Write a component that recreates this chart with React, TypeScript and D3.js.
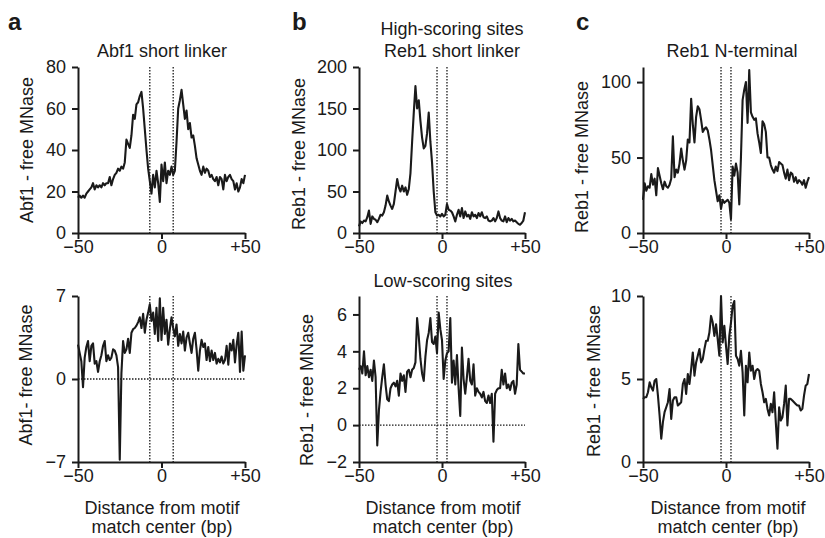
import React, { useEffect, useRef } from "react";
import * as d3 from "d3";

// distance from motif center, -50..+50 bp
const positions = d3.range(-50, 51);

// a, top: Abf1 short linker (high-scoring)
const abf1ShortLinker = [
  17, 18, 17, 18, 17, 19, 20, 21, 22, 24,
  21, 23, 22, 23, 22, 24, 23, 24, 24, 27,
  23, 26, 28, 29, 31, 30, 32, 31, 34, 45,
  43, 41, 47, 57, 55, 62, 63, 66, 68, 60,
  50, 40, 31, 25, 19, 28, 22, 30, 24, 15,
  33, 25, 34, 24, 30, 28, 32, 28, 30, 44,
  60, 64, 69, 62, 55, 59, 50, 53, 46, 47,
  42, 36, 33, 30, 28, 32, 29, 31, 30, 27,
  28, 26, 25, 27, 23, 27, 26, 21, 28, 25,
  27, 28, 26, 25, 21, 24, 20, 22, 26, 24,
  28,
];

// b, top: Reb1 short linker, high-scoring sites
const reb1ShortHigh = [
  8, 14, 12, 15, 14, 19, 27, 11, 20, 17,
  16, 13, 17, 22, 21, 25, 33, 45, 38, 33,
  29, 35, 50, 65, 55, 50, 57, 50, 55, 46,
  53, 72, 110, 145, 177, 150, 160, 135, 115, 102,
  105, 120, 145, 110, 85, 50, 25, 21, 22, 20,
  23, 20, 22, 35, 28, 27, 25, 20, 14, 22,
  28, 20, 30, 18, 26, 20, 22, 17, 25, 20,
  22, 18, 24, 20, 25, 19, 18, 20, 15, 14,
  15, 18, 14, 18, 26, 18, 15, 14, 20, 13,
  18, 15, 17, 14, 15, 13, 11, 10, 12, 15,
  25,
];

// c, top: Reb1 N-terminal
const reb1NTermHigh = [
  22, 33, 28, 31, 30, 39, 32, 36, 25, 43,
  38, 33, 29, 34, 31, 30, 32, 36, 64, 37,
  42, 40, 46, 56, 48, 42, 48, 62, 60, 89,
  72, 60, 77, 84, 82, 75, 67, 69, 70, 68,
  62, 55, 45, 35, 28, 21, 25, 16, 22, 20,
  21, 22, 20, 9, 44, 38, 46, 40, 19, 50,
  88, 95, 100, 73, 108, 80, 77, 75, 76, 66,
  60, 53, 74, 72, 67, 50, 50, 45, 42, 40,
  44, 41, 47, 46, 45, 40, 36, 42, 35, 40,
  39, 34, 37, 33, 35, 34, 32, 35, 30, 34,
  37,
];

// a, bottom: Abf1 low-scoring
const abf1Low = [
  2.9, 2.2, 1.5, -0.7, 1.8, 2.7, 3.2, 1.5, 2.8, 3.0,
  1.3, 1.5, 0.6, 1.5, 2.0, 2.8, 3.2, 1.5, 2.0, 1.6,
  1.8, 2.5, 2.4, 2.0, 1.0, -6.8, 0.5, 3.2, 2.2, 2.5,
  3.4, 2.2, 3.9, 4.2, 4.3, 4.5, 4.8, 5.2, 4.3, 5.5,
  3.9, 5.0, 5.6, 6.3, 4.9, 5.6, 3.8, 6.0, 3.2, 6.8,
  3.3, 6.0, 3.8, 5.0, 2.9, 4.2, 5.2, 4.3, 3.6, 4.6,
  2.8, 3.8, 3.0, 4.0, 2.4, 3.5, 3.9, 3.0, 2.2, 3.4,
  3.9, 2.5, 0.7, 2.4, 3.3, 2.7, 3.0, 1.6, 2.7, 1.5,
  2.4, 1.6, 2.2, 1.3, 1.7, 1.4, 1.9, 1.3, 1.6, 2.8,
  1.2, 3.0, 2.4, 3.3, 1.4, 2.9, 3.9, 0.6, 4.0, 0.7,
  2.0,
];

// b, bottom: Reb1 short linker, low-scoring sites
const reb1ShortLow = [
  3.0, 3.2, 2.8, 4.0, 2.7, 3.2, 2.6, 3.0, 2.4, 3.5,
  2.6, -1.1, 0.8, 1.8, 2.6, 3.3, 2.2, 1.4, 1.3, 2.0,
  2.2, 2.3, 2.1, 2.4, 1.6, 2.8, 2.4, 2.7, 1.8, 2.9,
  3.0, 2.6, 3.0, 3.1, 3.4, 5.8, 4.8, 3.6, 2.8, 2.4,
  3.7, 4.6, 5.0, 5.8, 4.5, 4.4, 4.8, 3.9, 6.1, 5.2,
  4.6, 2.5, 3.5, 3.9, 4.0, 5.8, 2.3, 3.5, 2.2, 3.8,
  2.0, 0.5, 4.2, 2.5, 1.7, 2.6, 3.6, 2.4, 2.2, 3.3,
  1.6, 2.0, 1.8, 1.7, 1.5, 1.8, 1.3, 1.2, 1.6, 1.2,
  1.7, -0.9, 1.7, 1.9, 2.0, 2.0, 3.0, 2.2, 2.8, 2.0,
  2.2, 1.9, 2.3, 2.4, 1.7, 2.2, 4.4, 3.0, 2.9, 2.8,
  2.8,
];

// c, bottom: Reb1 N-terminal, low-scoring
const reb1NTermLow = [
  3.8, 3.9, 3.9, 4.2, 4.8, 4.5, 4.3, 4.9, 5.0, 4.0,
  2.8, 1.4, 2.4, 3.0, 3.3, 3.6, 4.4, 2.6, 3.7, 3.9,
  3.9, 3.4, 3.5, 3.6, 4.7, 5.0, 4.1, 5.3, 4.7, 5.6,
  6.6, 5.2, 6.0, 6.4, 6.8, 6.0, 6.2, 6.8, 7.3, 7.3,
  7.8, 8.8, 8.4, 7.6, 8.3, 7.4, 6.4, 10.0, 7.2, 8.2,
  7.0, 5.9, 7.6, 8.4, 9.4, 9.7, 6.4, 6.2, 5.8, 6.7,
  5.4, 2.8, 5.8, 4.8, 6.6, 5.5, 5.8, 5.0, 5.5, 5.6,
  5.5, 4.7, 4.2, 3.6, 3.8, 3.2, 2.8, 3.5, 3.0, 4.2,
  2.4, 0.8, 3.3, 2.5, 2.7, 3.5, 4.6, 2.2, 3.8, 3.8,
  3.7, 3.6, 3.5, 3.4, 3.4, 3.1, 3.2, 4.0, 4.6, 4.7,
  5.3,
];

const xTicks = [-50, 0, 50];
const abf1HighTicks = [0, 20, 40, 60, 80];
const reb1HighTicks = [0, 50, 100, 150, 200];
const nTermHighTicks = [0, 50, 100];
const abf1LowTicks = [-7, 0, 7];
const reb1LowTicks = [-2, 0, 2, 4, 6];
const nTermLowTicks = [0, 5, 10];
const xLabelLines = ["Distance from motif", "match center (bp)"];

const FONT = "'Liberation Sans', Arial, Helvetica, sans-serif";
const INK = "#1a1a1a";

const fmt = (d, signed) => {
  if (d < 0) return `\u2212${-d}`;
  if (d > 0 && signed) return `+${d}`;
  return `${d}`;
};

const panels = [
  {
    values: abf1ShortLinker, left: 78, right: 245, top: 67, bottom: 233,
    yDomain: [0, 80], yTicks: abf1HighTicks, markers: [-7, 7], zero: false,
    yLabel: "Abf1 - free MNase", yLabelAt: [33, 150],
    titles: [{ text: "Abf1 short linker", x: 162, y: 57 }],
  },
  {
    values: reb1ShortHigh, left: 359, right: 525, top: 67, bottom: 233,
    yDomain: [0, 200], yTicks: reb1HighTicks, markers: [-3, 3], zero: false,
    yLabel: "Reb1 - free MNase", yLabelAt: [305, 154],
    titles: [
      { text: "High-scoring sites", x: 452, y: 35 },
      { text: "Reb1 short linker", x: 452, y: 57 },
    ],
  },
  {
    values: reb1NTermHigh, left: 643, right: 809, top: 67, bottom: 233,
    yDomain: [0, 110], yTicks: nTermHighTicks, markers: [-3, 3], zero: false,
    yLabel: "Reb1 - free MNase", yLabelAt: [588, 157],
    titles: [{ text: "Reb1 N-terminal", x: 732, y: 57 }],
  },
  {
    values: abf1Low, left: 78, right: 245, top: 296, bottom: 462,
    yDomain: [-7, 7], yTicks: abf1LowTicks, markers: [-7, 7], zero: true,
    yLabel: "Abf1- free MNase", yLabelAt: [32, 375],
    titles: [], xLabel: 162,
  },
  {
    values: reb1ShortLow, left: 359, right: 525, top: 296, bottom: 462,
    yDomain: [-2, 7], yTicks: reb1LowTicks, markers: [-3, 3], zero: true,
    yLabel: "Reb1 - free MNase", yLabelAt: [313, 390],
    titles: [{ text: "Low-scoring sites", x: 443, y: 287 }], xLabel: 443,
  },
  {
    values: reb1NTermLow, left: 643, right: 809, top: 296, bottom: 462,
    yDomain: [0, 10], yTicks: nTermLowTicks, markers: [-3, 3], zero: false,
    yLabel: "Reb1 - free MNase", yLabelAt: [600, 381],
    titles: [], xLabel: 728,
  },
];

const letters = [
  { text: "a", x: 8, y: 30 },
  { text: "b", x: 292, y: 30 },
  { text: "c", x: 576, y: 30 },
];

function App() {
  const ref = useRef(null);

  useEffect(() => {
    const svg = d3.select(ref.current);
    svg.selectAll("*").remove();

    letters.forEach((l) => {
      svg.append("text")
        .attr("x", l.x).attr("y", l.y)
        .attr("font-family", FONT).attr("font-size", 24).attr("font-weight", "bold")
        .attr("fill", INK)
        .text(l.text);
    });

    panels.forEach((p) => {
      const x = d3.scaleLinear().domain([-50, 50]).range([p.left, p.right]);
      const y = d3.scaleLinear().domain(p.yDomain).range([p.bottom, p.top]);
      const g = svg.append("g");

      // dotted guides
      p.markers.forEach((m) => {
        g.append("line")
          .attr("x1", x(m)).attr("x2", x(m))
          .attr("y1", p.top).attr("y2", p.bottom)
          .attr("stroke", INK).attr("stroke-width", 1.3)
          .attr("stroke-dasharray", "1.5,1.5");
      });
      if (p.zero) {
        g.append("line")
          .attr("x1", p.left).attr("x2", p.right)
          .attr("y1", y(0)).attr("y2", y(0))
          .attr("stroke", INK).attr("stroke-width", 1.3)
          .attr("stroke-dasharray", "1.5,1.5");
      }

      const line = d3.line()
        .x((d, i) => x(positions[i]))
        .y((d) => y(d));

      g.append("path")
        .datum(p.values)
        .attr("d", line)
        .attr("fill", "none")
        .attr("stroke", INK)
        .attr("stroke-width", 2.1)
        .attr("stroke-linejoin", "round");

      const xAxis = g.append("g")
        .attr("transform", `translate(0,${p.bottom})`)
        .call(d3.axisBottom(x).tickValues(xTicks).tickSize(6).tickSizeOuter(0).tickPadding(1)
          .tickFormat((d) => fmt(d, true)));
      const yAxis = g.append("g")
        .attr("transform", `translate(${p.left},0)`)
        .call(d3.axisLeft(y).tickValues(p.yTicks).tickSize(6).tickSizeOuter(0).tickPadding(6)
          .tickFormat((d) => fmt(d, false)));

      [xAxis, yAxis].forEach((a) => {
        a.attr("font-family", FONT).attr("font-size", 18);
        a.select(".domain").attr("stroke", INK).attr("stroke-width", 2);
        a.selectAll(".tick line").attr("stroke", INK).attr("stroke-width", 2);
        a.selectAll(".tick text").attr("fill", INK);
      });

      g.append("text")
        .attr("transform", `translate(${p.yLabelAt[0]},${p.yLabelAt[1]}) rotate(-90)`)
        .attr("text-anchor", "middle")
        .attr("font-family", FONT).attr("font-size", 18).attr("fill", INK)
        .text(p.yLabel);

      p.titles.forEach((t) => {
        g.append("text")
          .attr("x", t.x).attr("y", t.y)
          .attr("text-anchor", "middle")
          .attr("font-family", FONT).attr("font-size", 18).attr("fill", INK)
          .text(t.text);
      });

      if (p.xLabel) {
        xLabelLines.forEach((s, i) => {
          g.append("text")
            .attr("x", p.xLabel).attr("y", 514 + i * 19)
            .attr("text-anchor", "middle")
            .attr("font-family", FONT).attr("font-size", 18).attr("fill", INK)
            .text(s);
        });
      }
    });
  }, []);

  return (
    <svg
      ref={ref}
      width={825}
      height={538}
      style={{ position: "absolute", left: 0, top: 0, background: "#fff" }}
    />
  );
}

export default App;
